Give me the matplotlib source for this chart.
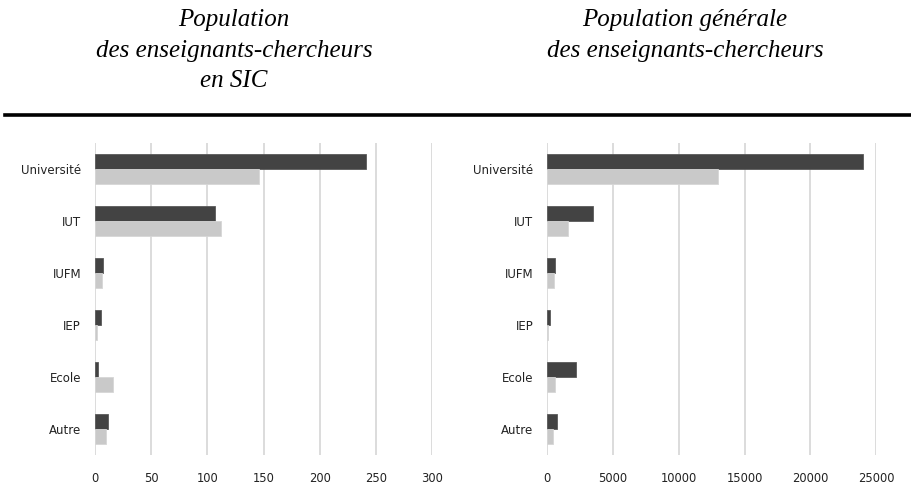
import matplotlib
matplotlib.use("Agg")
import matplotlib.pyplot as plt
import numpy as np

categories = ["Université", "IUT", "IUFM", "IEP", "Ecole", "Autre"]
sic_dark = [241, 107, 7, 5, 3, 12]
sic_light = [146, 112, 6, 1.5, 16, 9.5]
gen_dark = [24000, 3500, 560, 180, 2200, 700]
gen_light = [12950, 1550, 490, 80, 580, 410]
sic_ticks = [0, 50, 100, 150, 200, 250, 300]
gen_ticks = [0, 5000, 10000, 15000, 20000, 25000]
title_left = ["Population", "des enseignants-chercheurs", "en SIC"]
title_right = ["Population générale", "des enseignants-chercheurs"]

DARK = "#434343"
LIGHT = "#c9c9c9"
GRID = "#d9d9d9"

fig = plt.figure(figsize=(9.12, 5.03), dpi=100)

def panel(rect, dark, light, ticks, xmax):
    ax = fig.add_axes(rect)
    y = np.arange(len(categories))
    h = 0.29
    ax.barh(y - h / 2, dark, height=h, color=DARK, edgecolor="#5a5a5a", linewidth=0.6, zorder=3)
    ax.barh(y + h / 2, light, height=h, color=LIGHT, edgecolor="#d6d6d6", linewidth=0.6, zorder=3)
    ax.set_ylim(5.5, -0.5)
    ax.set_xlim(0, xmax)
    ax.set_yticks(y)
    ax.set_yticklabels(categories, fontsize=8.5, color="#222222", family="DejaVu Sans")
    ax.set_xticks(ticks)
    ax.set_xticklabels([str(t) for t in ticks], fontsize=8.3, color="#222222", family="DejaVu Sans")
    ax.tick_params(axis="both", length=0)
    ax.tick_params(axis="y", pad=10)
    ax.tick_params(axis="x", pad=12)
    for s in ax.spines.values():
        s.set_visible(False)
    ax.xaxis.grid(True, color=GRID, linewidth=1.3, zorder=0)
    ax.set_axisbelow(True)
    return ax

panel([95 / 912, 1 - 455 / 503, 337 / 912, 312 / 503], sic_dark, sic_light, sic_ticks, 300)
panel([547.3 / 912, 1 - 455 / 503, 329 / 912, 312 / 503], gen_dark, gen_light, gen_ticks, 25000)

baselines = [26, 56.5, 87]
for line, yb in zip(title_left, baselines):
    fig.text(234 / 912, 1 - yb / 503, line, ha="center", va="baseline",
             family="Liberation Serif", style="italic", fontsize=18)
for line, yb in zip(title_right, baselines):
    fig.text(685 / 912, 1 - yb / 503, line, ha="center", va="baseline",
             family="Liberation Serif", style="italic", fontsize=18)

fig.add_artist(plt.Line2D([5 / 912, 1.0], [1 - 115 / 503, 1 - 115 / 503],
                          color="black", linewidth=2.6, transform=fig.transFigure))

fig.savefig("out.png", dpi=100, facecolor="white")
